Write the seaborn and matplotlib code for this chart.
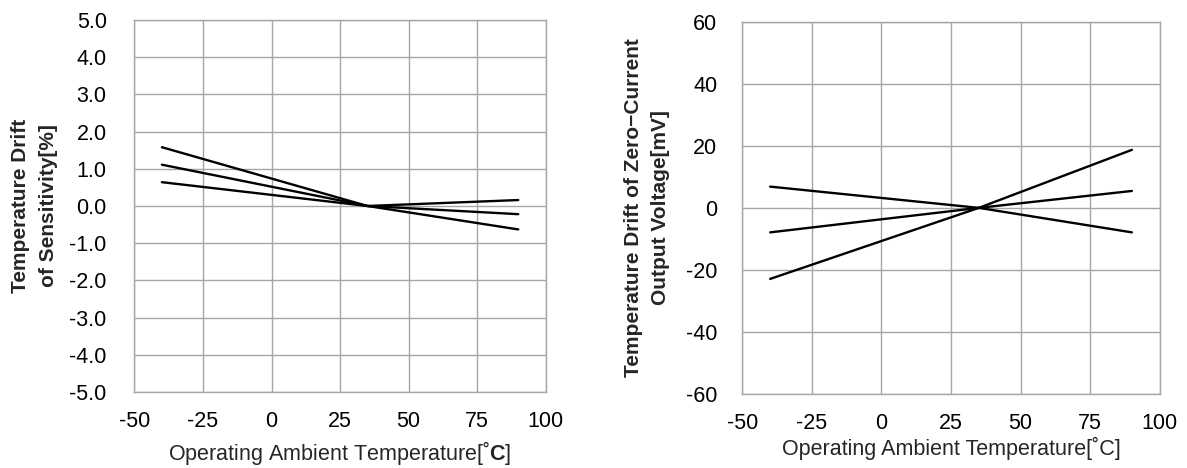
import numpy as np
import pandas as pd
import seaborn as sns
from matplotlib import pyplot as plt
from matplotlib.ticker import FormatStrFormatter

# datos: tres curvas por panel, todas cruzan en 35 grados
temperatura = [-40, 35, 90]

sens_a = [1.58, 0.0, -0.63]
sens_b = [1.11, 0.0, -0.22]
sens_c = [0.64, 0.0, 0.16]

offset_a = [-22.9, 0.0, 18.7]
offset_b = [-7.9, 0.0, 5.45]
offset_c = [6.85, 0.0, -7.9]

xticks = [-50, -25, 0, 25, 50, 75, 100]
yticks_sens = [-5.0, -4.0, -3.0, -2.0, -1.0, 0.0, 1.0, 2.0, 3.0, 4.0, 5.0]
yticks_offset = [-60, -40, -20, 0, 20, 40, 60]


def armar_tabla(series: dict) -> pd.DataFrame:
	filas = []
	for nombre, valores in series.items():
		for t, v in zip(temperatura, valores):
			filas.append({"Temp": t, "Valor": v, "Serie": nombre})
	return pd.DataFrame(filas)


sns.set_style("white")
plt.rcParams["font.family"] = ["Liberation Sans", "DejaVu Sans"]
plt.rcParams["axes.unicode_minus"] = False
plt.rcParams["mathtext.fontset"] = "custom"
plt.rcParams["mathtext.rm"] = "Liberation Sans"
plt.rcParams["mathtext.bf"] = "Liberation Sans:bold"

fig = plt.figure(figsize=(11.87, 4.68), dpi=100)
ax1 = fig.add_axes([0.1133, 0.1624, 0.3464, 0.7949])
ax2 = fig.add_axes([0.6254, 0.1581, 0.3516, 0.7955])

df_sens = armar_tabla({"a": sens_a, "b": sens_b, "c": sens_c})
df_off = armar_tabla({"a": offset_a, "b": offset_b, "c": offset_c})

paneles = [
	(ax1, df_sens, yticks_sens, "Temperature Drift\nof Sensitivity[%]",
	 "Operating Ambient Temperature[˚$\\mathbf{C}$]", "%.1f", -0.243, -0.163, 20),
	(ax2, df_off, yticks_offset, "Temperature Drift of Zero\u2212Current\nOutput Voltage[mV]",
	 "Operating Ambient Temperature[˚C]", "%d", -0.229, -0.146, 18),
]

for ax, df, yticks, ylabel, xlabel, fmt, ylab_x, xlab_y, ypad in paneles:
	sns.lineplot(data=df, x="Temp", y="Valor", units="Serie", estimator=None,
				 color="black", linewidth=1.7, ax=ax, legend=False, zorder=3)
	ax.set_xlim(-50, 100)
	ax.set_ylim(yticks[0], yticks[-1])
	ax.set_xticks(xticks)
	ax.set_yticks(yticks)
	ax.yaxis.set_major_formatter(FormatStrFormatter(fmt))
	ax.grid(True, color="#a6a6a6", linewidth=1.0)
	for spine in ax.spines.values():
		spine.set_color("#a6a6a6")
		spine.set_linewidth(1.0)
	ax.tick_params(axis="both", length=0, labelsize=15.5, colors="black")
	ax.tick_params(axis="y", pad=ypad)
	ax.tick_params(axis="x", pad=14)
	ax.set_xlabel(xlabel, fontsize=15.5)
	ax.set_ylabel(ylabel, fontsize=15, fontweight="bold", linespacing=1.55)
	ax.xaxis.label.set_va("center")
	ax.yaxis.label.set_va("center")
	ax.xaxis.set_label_coords(0.5, xlab_y)
	ax.yaxis.set_label_coords(ylab_x, 0.5)

fig.savefig("out.png", dpi=100)
